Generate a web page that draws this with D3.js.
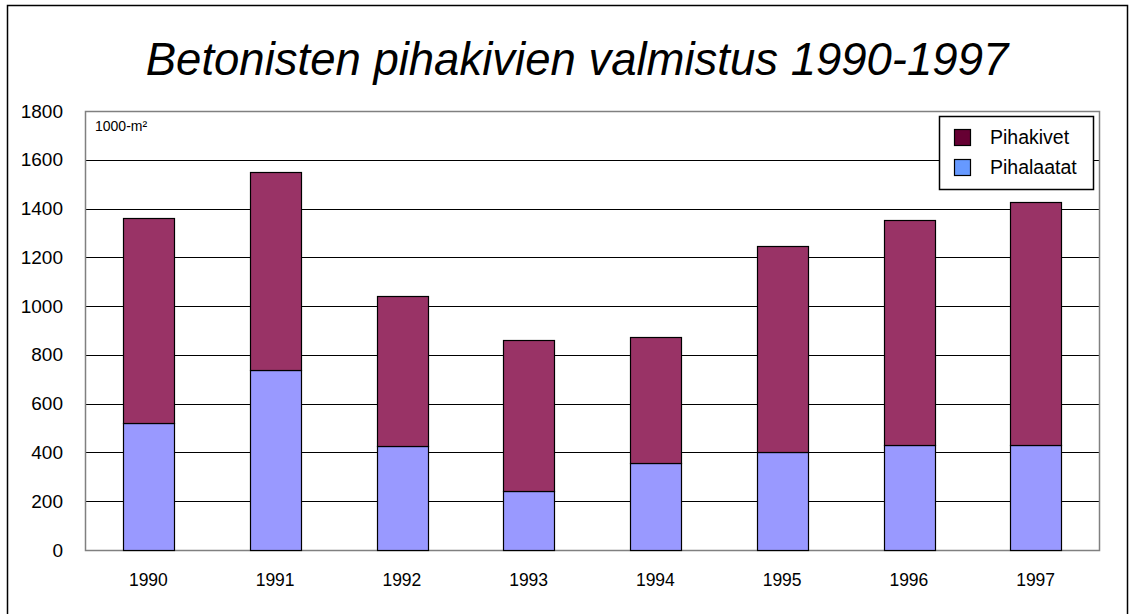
<!DOCTYPE html>
<html>
<head>
<meta charset="utf-8">
<script src="https://cdn.jsdelivr.net/npm/d3@7"></script>
<style>
  body { margin: 0; background: #fff; }
  text { font-family: "Liberation Sans", Arial, sans-serif; }
</style>
</head>
<body>
<div id="chart"></div>
<script>
var w = 1131,
    h = 614;

var years = ["1990", "1991", "1992", "1993", "1994", "1995", "1996", "1997"];
var pihalaatat = [520, 740, 425, 240, 355, 400, 430, 430];
var totals = [1360, 1550, 1040, 860, 875, 1245, 1355, 1425];
var pihakivet = totals.map(function(t, i) { return t - pihalaatat[i]; });
var yTicks = [0, 200, 400, 600, 800, 1000, 1200, 1400, 1600, 1800];
var seriesNames = ["Pihalaatat", "Pihakivet"];

var colors = { Pihalaatat: "#9999ff", Pihakivet: "#993366" };
var legendColors = { Pihalaatat: "#6699ff", Pihakivet: "#660033" };

var plotLeft = 85, plotRight = 1099, plotTop = 111, plotBottom = 550;

var svg = d3.select("#chart")
    .append("svg")
    .attr("width", w)
    .attr("height", h);

// outer frame
svg.append("rect")
   .attr("x", 7.5).attr("y", 5.5)
   .attr("width", 1120).attr("height", 620)
   .attr("fill", "none").attr("stroke", "#000").attr("stroke-width", 1.5);

svg.append("text")
   .attr("x", 577).attr("y", 75)
   .attr("text-anchor", "middle")
   .attr("font-size", 45.5)
   .attr("font-style", "italic")
   .text("Betonisten pihakivien valmistus 1990-1997");

var x = d3.scaleBand().domain(years).range([plotLeft, plotRight]).paddingInner(0.6).paddingOuter(0.3);
var y = d3.scaleLinear().domain([0, 1800]).range([plotBottom, plotTop]);

// gridlines
svg.append("g")
   .selectAll("line")
   .data(yTicks.filter(function(d) { return d > 0 && d < 1800; }))
   .enter().append("line")
   .attr("x1", plotLeft).attr("x2", plotRight)
   .attr("y1", function(d) { return Math.round(y(d)) + 0.5; })
   .attr("y2", function(d) { return Math.round(y(d)) + 0.5; })
   .attr("stroke", "#000");

// plot frame
svg.append("rect")
   .attr("x", plotLeft + 0.5).attr("y", plotTop + 0.5)
   .attr("width", plotRight - plotLeft).attr("height", plotBottom - plotTop)
   .attr("fill", "none").attr("stroke", "#808080").attr("stroke-width", 1.5);

var stackData = years.map(function(yr, i) {
  return { year: yr, Pihalaatat: pihalaatat[i], Pihakivet: pihakivet[i] };
});
var stack = d3.stack().keys(seriesNames)(stackData);

svg.append("g")
   .selectAll("g")
   .data(stack)
   .enter().append("g")
   .attr("fill", function(d) { return colors[d.key]; })
   .selectAll("rect")
   .data(function(d) { return d; })
   .enter().append("rect")
   .attr("x", function(d) { return Math.round(x(d.data.year)) + 0.5; })
   .attr("y", function(d) { return Math.round(y(d[1])) + 0.5; })
   .attr("width", Math.round(x.bandwidth()))
   .attr("height", function(d) { return Math.round(y(d[0])) - Math.round(y(d[1])); })
   .attr("stroke", "#000")
   .attr("stroke-width", 1.2);

// y axis labels
var yAxis = d3.axisLeft(y).tickValues(yTicks).tickFormat(d3.format("d")).tickSize(0).tickPadding(22);
var ya = svg.append("g").attr("transform", "translate(" + plotLeft + ",0)").call(yAxis);
ya.select(".domain").remove();
ya.selectAll("text").attr("font-size", 19).attr("font-family", "Liberation Sans, Arial, sans-serif").attr("fill", "#000");

// x axis labels
var xAxis = d3.axisBottom(x).tickSize(0).tickPadding(24);
var xa = svg.append("g").attr("transform", "translate(0," + plotBottom + ")").call(xAxis);
xa.select(".domain").remove();
xa.selectAll("text").attr("font-size", 17.5).attr("font-family", "Liberation Sans, Arial, sans-serif").attr("fill", "#000");

svg.append("text")
   .attr("x", 95).attr("y", 131)
   .attr("font-size", 14)
   .text("1000-m²");

// legend
var lg = svg.append("g");
lg.append("rect")
  .attr("x", 939.5).attr("y", 116.5)
  .attr("width", 154).attr("height", 73)
  .attr("fill", "#fff").attr("stroke", "#000").attr("stroke-width", 1.5);
var legendItems = ["Pihakivet", "Pihalaatat"];
legendItems.forEach(function(name, i) {
  lg.append("rect")
    .attr("x", 954.5).attr("y", 129.5 + i * 30)
    .attr("width", 16).attr("height", 16)
    .attr("fill", legendColors[name]).attr("stroke", "#000").attr("stroke-width", 1.2);
  lg.append("text")
    .attr("x", 990).attr("y", 144 + i * 30)
    .attr("font-size", 19.5)
    .text(name);
});
</script>
</body>
</html>
